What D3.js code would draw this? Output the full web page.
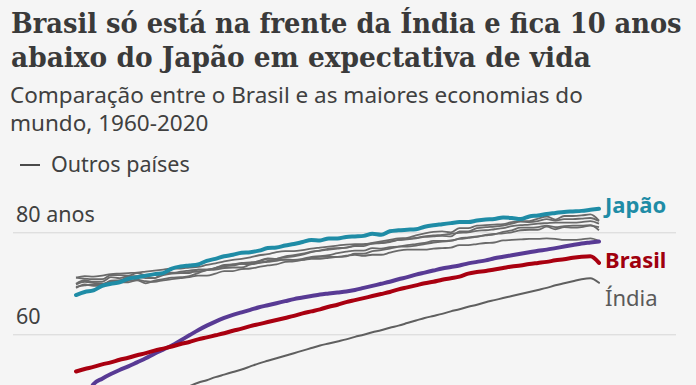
<!DOCTYPE html>
<html>
<head>
  <meta charset="utf-8">
  <style type="text/css">
	body {
		margin: 0;
		background: #f5f5f5;
	}
	svg {
		display: block;
	}
	.title {
		font-family: "DejaVu Serif", serif;
		font-weight: bold;
		fill: #3a3a3a;
	}
	.subtitle, .legend, .axis text, .label {
		font-family: "Noto Sans", "Open Sans", sans-serif;
	}
  </style>
</head>
<body>
<svg class="chart" width="696" height="385"></svg>

<script src="https://d3js.org/d3.v7.min.js"></script>
<script>
// Esperança de vida ao nascer, 1960-2020
var years = d3.range(1960, 2021);

var japao = [67.7, 68.3, 68.6, 69.5, 69.9, 70.2, 70.9, 71.2, 71.5, 71.8,
	72.0, 72.9, 73.3, 73.5, 73.7, 74.4, 74.8, 75.3, 75.6, 76.0,
	76.1, 76.4, 76.9, 77.0, 77.4, 77.7, 78.1, 78.5, 78.4, 78.8,
	78.8, 79.1, 79.2, 79.3, 79.7, 79.5, 80.2, 80.4, 80.5, 80.6,
	81.1, 81.4, 81.6, 81.8, 82.0, 82.0, 82.3, 82.5, 82.6, 82.9,
	82.8, 82.6, 83.1, 83.3, 83.6, 83.8, 84.0, 84.1, 84.2, 84.4,
	84.6];

var brasil = [52.7, 53.2, 53.6, 54.1, 54.5, 55.0, 55.4, 55.9, 56.3, 56.8,
	57.2, 57.6, 58.1, 58.5, 59.0, 59.4, 59.8, 60.2, 60.7, 61.1,
	61.6, 62.0, 62.4, 62.8, 63.2, 63.6, 64.1, 64.5, 64.9, 65.4,
	65.8, 66.3, 66.7, 67.1, 67.5, 67.9, 68.3, 68.8, 69.2, 69.6,
	70.0, 70.3, 70.7, 71.0, 71.3, 71.9, 72.2, 72.4, 72.7, 73.0,
	73.3, 73.5, 73.8, 74.0, 74.2, 74.5, 74.7, 75.0, 75.2, 75.3,
	74.0];

var china = [44.0, 46.8, 50.2, 51.3, 52.2, 53.0, 53.7, 54.5, 55.3, 56.2,
	57.0, 57.8, 58.8, 59.8, 60.8, 61.7, 62.5, 63.2, 63.8, 64.3,
	64.8, 65.3, 65.7, 66.1, 66.5, 66.9, 67.2, 67.5, 67.8, 68.0,
	68.2, 68.4, 68.7, 69.1, 69.5, 69.9, 70.3, 70.8, 71.2, 71.7,
	72.1, 72.5, 72.9, 73.2, 73.5, 73.9, 74.2, 74.5, 74.9, 75.2,
	75.5, 75.8, 76.1, 76.4, 76.6, 76.9, 77.2, 77.5, 77.8, 78.0,
	78.2];

var india = [41.4, 41.9, 42.4, 42.9, 43.4, 43.9, 44.4, 44.9, 45.4, 45.9,
	47.4, 48.3, 49.0, 49.8, 50.5, 51.0, 51.6, 52.1, 52.6, 53.1,
	53.7, 54.3, 54.8, 55.3, 55.8, 56.3, 56.8, 57.3, 57.8, 58.2,
	58.6, 59.0, 59.5, 59.9, 60.4, 60.8, 61.3, 61.7, 62.2, 62.7,
	63.2, 63.6, 64.0, 64.5, 64.9, 65.4, 65.8, 66.3, 66.7, 67.1,
	67.5, 67.9, 68.3, 68.7, 69.1, 69.6, 70.0, 70.4, 70.8, 71.0,
	70.1];

var canada = [71.1, 71.4, 71.3, 71.5, 71.8, 71.9, 72.0, 72.1, 72.3, 72.5,
	72.7, 72.9, 72.9, 73.1, 73.2, 73.6, 73.9, 74.3, 74.6, 74.8,
	75.1, 75.5, 75.7, 76.1, 76.3, 76.3, 76.5, 76.8, 77.0, 77.2,
	77.4, 77.6, 77.7, 77.7, 77.8, 77.9, 78.2, 78.5, 78.7, 78.9,
	79.2, 79.4, 79.5, 79.7, 79.9, 80.0, 80.3, 80.4, 80.6, 80.8,
	81.2, 81.4, 81.5, 81.7, 81.8, 81.9, 81.9, 81.9, 82.0, 82.2,
	81.7];

var franca = [69.9, 70.6, 70.3, 70.3, 71.2, 71.0, 71.4, 71.4, 71.3, 71.0,
	72.1, 72.0, 72.3, 72.5, 72.7, 72.7, 73.0, 73.6, 73.7, 74.0,
	74.1, 74.3, 74.8, 74.8, 75.1, 75.3, 75.6, 76.1, 76.4, 76.6,
	76.8, 77.0, 77.3, 77.3, 77.8, 77.9, 78.1, 78.5, 78.6, 78.8,
	79.1, 79.2, 79.3, 79.2, 80.2, 80.2, 80.8, 81.0, 81.1, 81.3,
	81.7, 82.1, 82.0, 82.2, 82.6, 82.3, 82.6, 82.6, 82.7, 82.8,
	82.2];

var alemanha = [69.3, 69.6, 69.8, 69.8, 70.4, 70.3, 70.5, 70.7, 70.4, 70.3,
	70.6, 70.8, 71.0, 71.2, 71.5, 71.5, 71.9, 72.4, 72.4, 72.8,
	72.9, 73.2, 73.5, 73.7, 74.2, 74.3, 74.6, 75.0, 75.2, 75.2,
	75.2, 75.3, 75.8, 75.8, 76.3, 76.5, 76.8, 77.2, 77.5, 77.7,
	77.9, 78.3, 78.3, 78.4, 78.7, 78.9, 79.1, 79.5, 79.7, 79.8,
	80.0, 80.4, 80.5, 80.5, 81.1, 80.6, 81.0, 80.9, 81.0, 81.3,
	81.0];

var italia = [69.1, 69.8, 69.5, 69.6, 70.5, 70.6, 71.2, 71.3, 71.0, 71.0,
	71.6, 71.9, 72.0, 72.0, 72.7, 72.7, 73.0, 73.4, 73.7, 73.8,
	73.9, 74.4, 74.9, 74.8, 75.3, 75.5, 75.8, 76.2, 76.4, 76.8,
	76.9, 77.0, 77.4, 77.6, 77.9, 78.2, 78.5, 78.8, 78.9, 79.4,
	79.8, 80.1, 80.2, 80.0, 80.8, 80.8, 81.3, 81.4, 81.5, 81.6,
	82.0, 82.2, 82.2, 82.7, 83.1, 82.5, 83.2, 83.2, 83.3, 83.5,
	82.3];

var reinoUnido = [71.1, 70.9, 70.8, 70.8, 71.6, 71.6, 71.5, 72.0, 71.6, 71.8,
	71.9, 72.1, 72.0, 72.2, 72.3, 72.6, 72.7, 73.0, 73.1, 73.1,
	73.7, 74.0, 74.2, 74.4, 74.7, 74.6, 74.8, 75.2, 75.3, 75.5,
	75.9, 76.2, 76.4, 76.4, 76.9, 76.8, 77.1, 77.2, 77.2, 77.4,
	77.7, 78.0, 78.2, 78.3, 78.8, 79.0, 79.2, 79.4, 79.6, 80.1,
	80.4, 80.9, 80.9, 81.0, 81.3, 81.0, 81.2, 81.3, 81.3, 81.4,
	80.4];

var eua = [69.8, 70.3, 70.1, 69.9, 70.2, 70.2, 70.2, 70.6, 70.0, 70.5,
	70.8, 71.1, 71.2, 71.4, 72.0, 72.6, 72.9, 73.3, 73.5, 73.8,
	73.7, 74.0, 74.4, 74.6, 74.6, 74.6, 74.6, 74.8, 74.8, 75.0,
	75.2, 75.4, 75.6, 75.4, 75.6, 75.6, 76.0, 76.4, 76.6, 76.6,
	76.6, 76.8, 76.9, 77.0, 77.5, 77.5, 77.7, 77.9, 78.0, 78.4,
	78.5, 78.6, 78.7, 78.7, 78.8, 78.7, 78.5, 78.5, 78.6, 78.8,
	78.3];

var outros = [canada, franca, alemanha, italia, reinoUnido, eua];
var yTicks = [60, 80];

var svg = d3.select(".chart");

// titulo: a fonte é mais larga que a original, então comprime na horizontal
var titulo = [
	{ texto: "Brasil só está na frente da Índia e fica 10 anos", y: 33, largura: 671 },
	{ texto: "abaixo do Japão em expectativa de vida", y: 67, largura: 580 }
];
titulo.forEach(function(t) {
	var g = svg.append("g");
	var txt = g.append("text").attr("class", "title")
		.attr("x", 0).attr("y", 0)
		.attr("font-size", 27)
		.text(t.texto);
	var w = txt.node().getComputedTextLength();
	g.attr("transform", "translate(11," + t.y + ") scale(" + (t.largura / w) + ",1)");
});

svg.selectAll("text.subtitle")
	.data(["Comparação entre o Brasil e as maiores economias do", "mundo, 1960-2020"])
	.enter().append("text")
		.attr("class", "subtitle")
		.attr("x", 10)
		.attr("y", function(d, i) { return 103 + i * 28; })
		.attr("font-size", 22.5)
		.attr("fill", "#404040")
		.text(function(d) { return d; });

// legenda
var legend = svg.append("g").attr("class", "legend");
legend.append("line")
	.attr("x1", 20).attr("x2", 40)
	.attr("y1", 165).attr("y2", 165)
	.attr("stroke", "#4a4a4a").attr("stroke-width", 2);
legend.append("text")
	.attr("x", 51).attr("y", 172)
	.attr("font-size", 21.5)
	.attr("fill", "#404040")
	.text("Outros países");

var x = d3.scaleLinear()
	.domain([1960, 2020])
	.range([76, 599]);

var y = d3.scaleLinear()
	.domain([60, 80])
	.range([334.3, 232.3]);

// grade
var axis = svg.append("g")
	.attr("class", "axis")
	.attr("transform", "translate(13,0)")
	.call(d3.axisRight(y)
		.tickValues(yTicks)
		.tickSize(663)
		.tickFormat(function(d) { return d == 80 ? "80 anos" : d; }));
axis.select(".domain").remove();
axis.selectAll(".tick line")
	.attr("stroke", "#d6d6d6")
	.attr("stroke-width", 1);
axis.selectAll(".tick text")
	.attr("x", 3)
	.attr("dy", -11)
	.attr("text-anchor", "start")
	.attr("font-size", 21.5)
	.attr("fill", "#404040");

var line = d3.line()
	.x(function(d, i) { return x(years[i]); })
	.y(function(d) { return y(d); })
	.curve(d3.curveMonotoneX);

// outros paises, com halo para separar as linhas
svg.append("g").selectAll("path.halo")
	.data(outros)
	.enter().append("path")
		.attr("class", "halo")
		.attr("d", line)
		.attr("fill", "none")
		.attr("stroke", "#f5f5f5")
		.attr("stroke-width", 3.2)
		.attr("stroke-linejoin", "round");
svg.append("g").selectAll("path.outro")
	.data(outros)
	.enter().append("path")
		.attr("class", "outro")
		.attr("d", line)
		.attr("fill", "none")
		.attr("stroke", "#6a6a6a")
		.attr("stroke-width", 1.8)
		.attr("stroke-linejoin", "round");

var destaques = [
	{ nome: "Índia", valores: india, cor: "#5f5f5f", largura: 2, rotulo: "#5a5a5a", peso: "normal", dy: 23 },
	{ nome: "", valores: china, cor: "#583a94", largura: 4, rotulo: "#583a94", peso: "bold", dy: 0 },
	{ nome: "Brasil", valores: brasil, cor: "#a90010", largura: 4, rotulo: "#a0000e", peso: "bold", dy: 5.5 },
	{ nome: "Japão", valores: japao, cor: "#1f8ca6", largura: 4, rotulo: "#1f8ca6", peso: "bold", dy: 4.5 }
];

svg.append("g").selectAll("path.destaque")
	.data(destaques)
	.enter().append("path")
		.attr("class", "destaque")
		.attr("d", function(d) { return line(d.valores); })
		.attr("fill", "none")
		.attr("stroke", function(d) { return d.cor; })
		.attr("stroke-width", function(d) { return d.largura; })
		.attr("stroke-linejoin", "round")
		.attr("stroke-linecap", "round");

svg.append("g").selectAll("text.label")
	.data(destaques.filter(function(d) { return d.nome; }))
	.enter().append("text")
		.attr("class", "label")
		.attr("x", x(2020) + 6)
		.attr("y", function(d) { return y(d.valores[d.valores.length - 1]) + d.dy; })
		.attr("font-size", 22)
		.attr("font-weight", function(d) { return d.peso; })
		.attr("fill", function(d) { return d.rotulo; })
		.text(function(d) { return d.nome; });
</script>
</body>
</html>
